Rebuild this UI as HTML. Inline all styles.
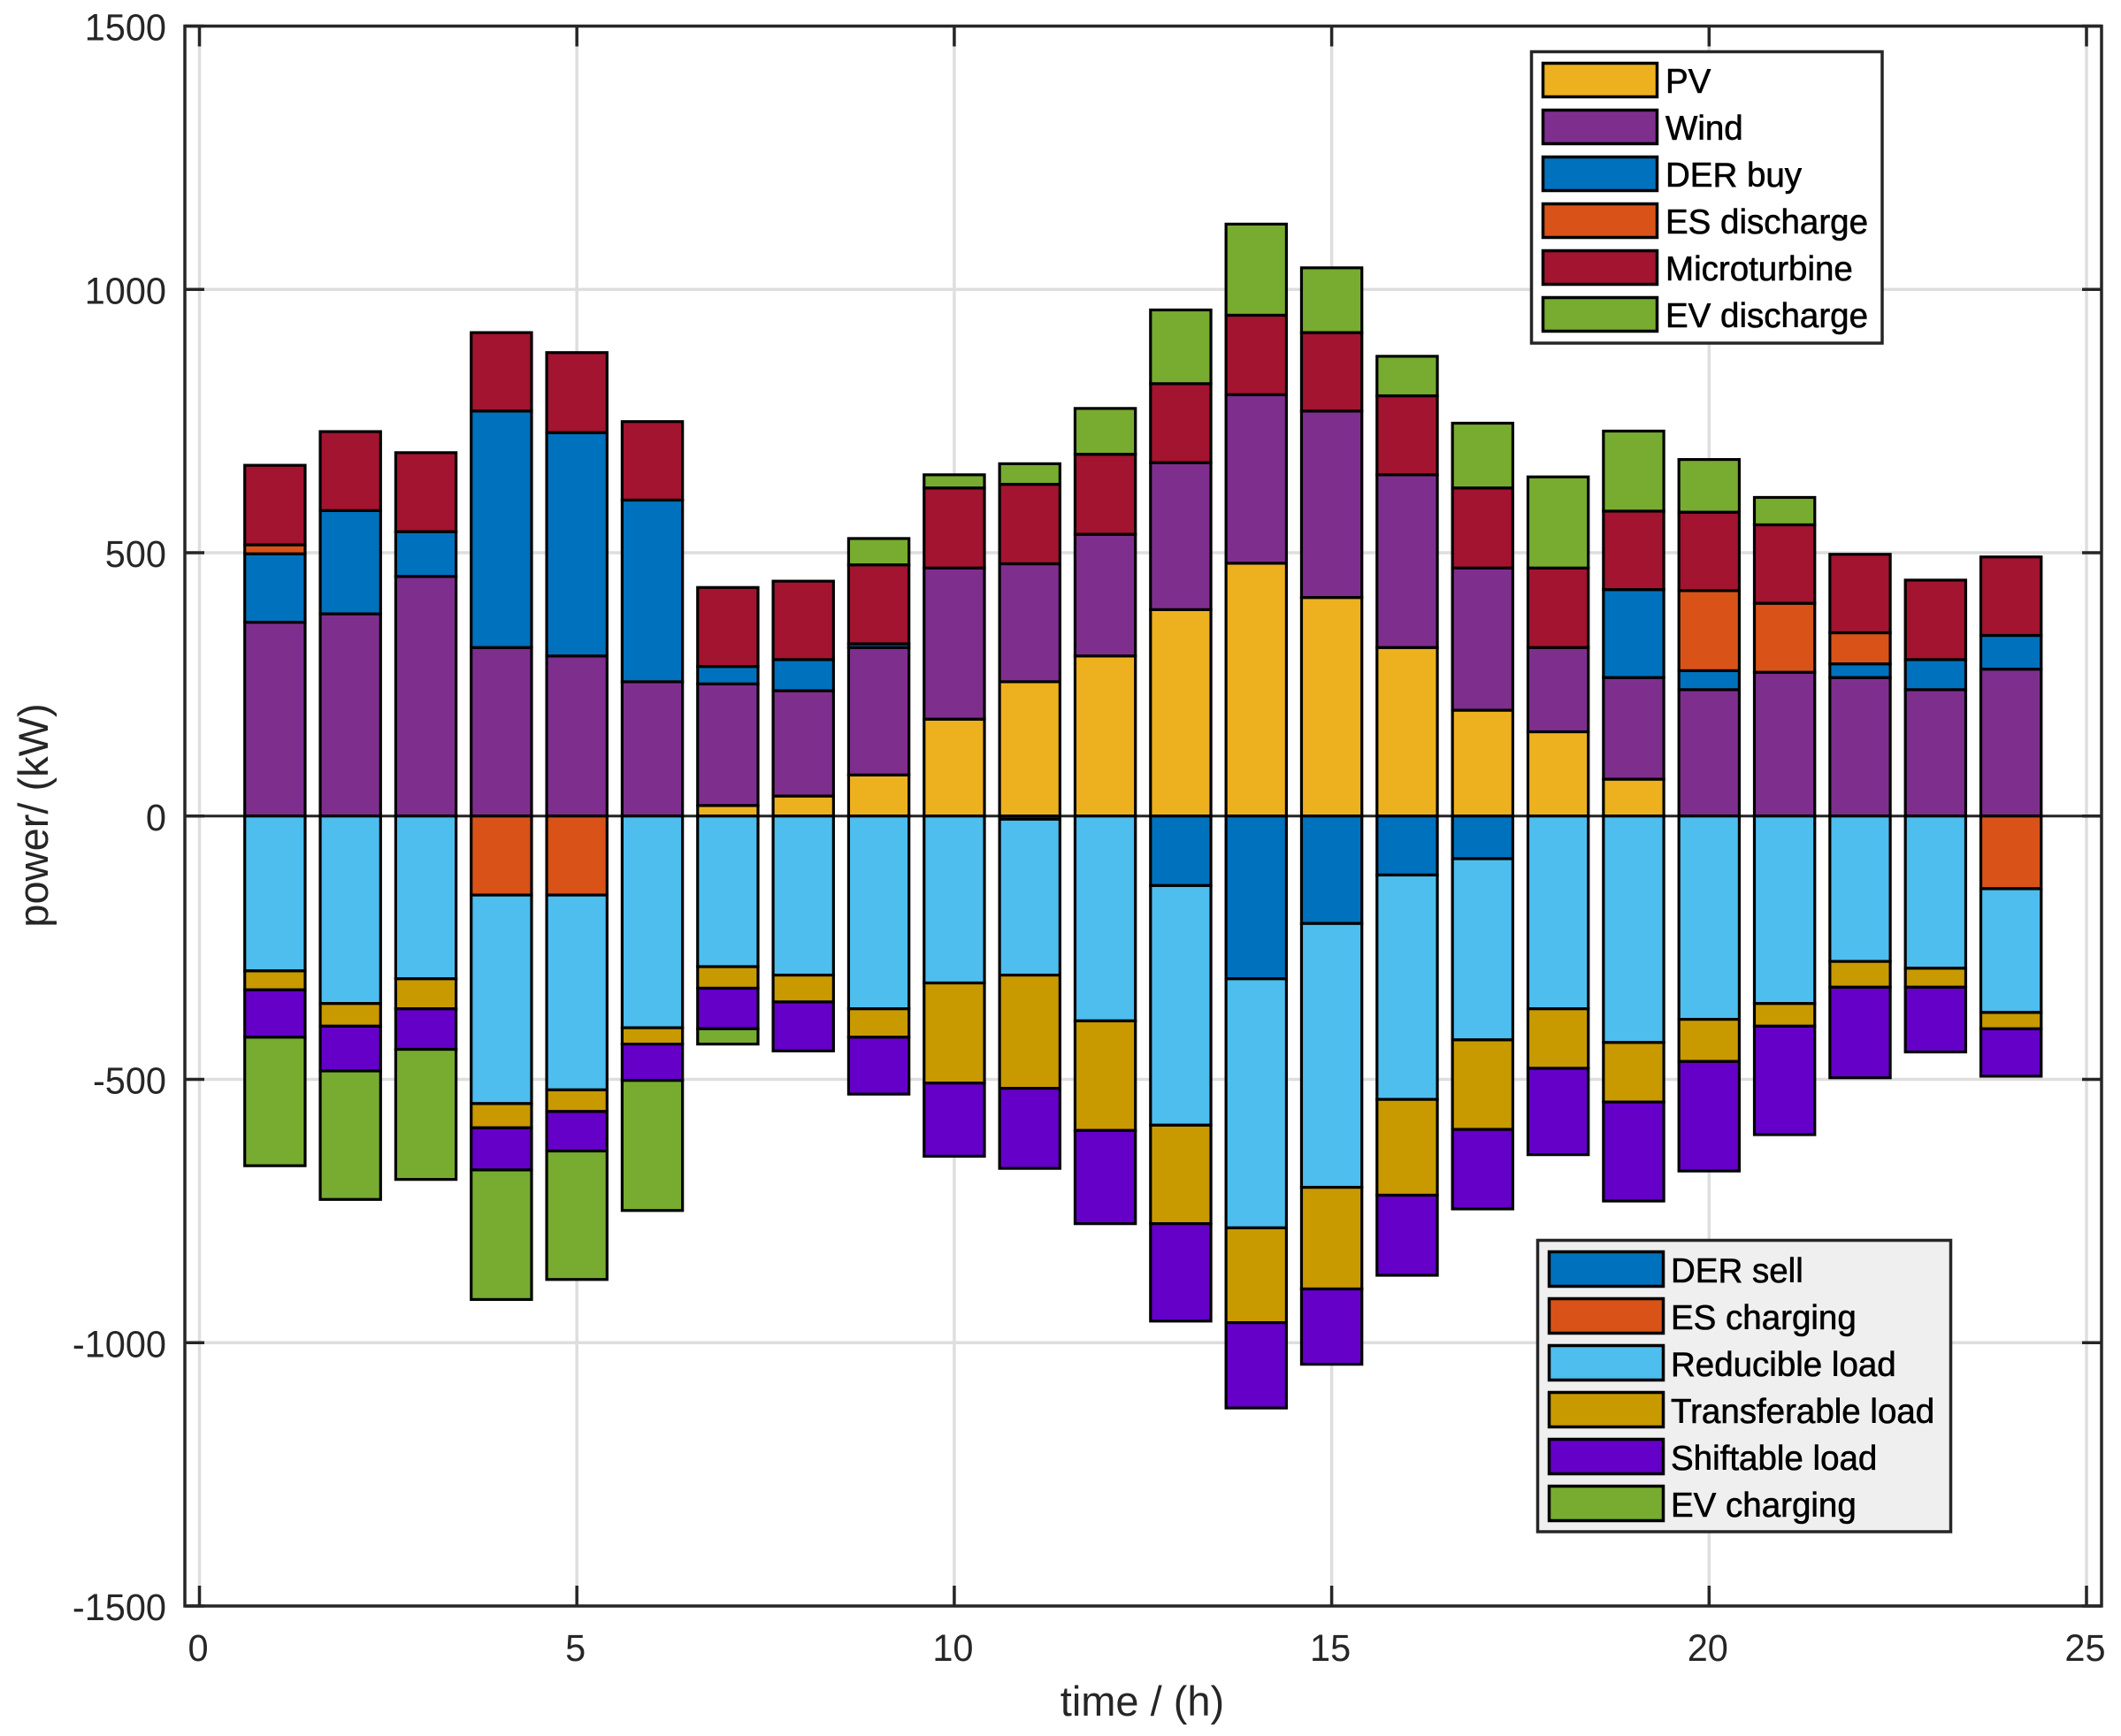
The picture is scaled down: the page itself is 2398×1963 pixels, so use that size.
<!DOCTYPE html>
<html lang="en">
<head>
<meta charset="utf-8">
<title>Power balance stacked bars</title>
<style>
html,body{margin:0;padding:0;background:#fff;width:2398px;height:1963px;overflow:hidden}
svg{display:block}
text{font-family:"Liberation Sans",Arial,sans-serif}
.tick{font-size:43px;fill:#262626}
.title{font-size:47px;fill:#262626}
.leg{font-size:38.5px;fill:#000;stroke:#000;stroke-width:.6px}
</style>
</head>
<body>
<svg id="chart" xmlns="http://www.w3.org/2000/svg" width="2398" height="1963" viewBox="0 0 2398 1963">
<rect x="0" y="0" width="2398" height="1963" fill="#fff"/>
<g id="grid"></g>
<g id="bars"></g>
<g id="axes"></g>
<text class="title" x="1291.5" y="1940" text-anchor="middle">time / (h)</text>
<text class="title" x="0" y="0" text-anchor="middle" transform="translate(54 922) rotate(-90)">power/ (kW)</text>

<g>
<rect x="1731.5" y="58.5" width="396.5" height="329.5" fill="#fff" stroke="#262626" stroke-width="3.5"/>
<g stroke="#000" stroke-width="3.5">
<rect x="1744.5" y="71.5" width="129" height="38" fill="#EDB120"/>
<rect x="1744.5" y="124.5" width="129" height="38" fill="#7E2F8E"/>
<rect x="1744.5" y="177.5" width="129" height="38" fill="#0072BD"/>
<rect x="1744.5" y="230.5" width="129" height="38" fill="#D95319"/>
<rect x="1744.5" y="283.5" width="129" height="38" fill="#A2142F"/>
<rect x="1744.5" y="336.5" width="129" height="38" fill="#77AC30"/>
</g>
<text class="leg" x="1883" y="105">PV</text>
<text class="leg" x="1883" y="158">Wind</text>
<text class="leg" x="1883" y="211">DER buy</text>
<text class="leg" x="1883" y="264">ES discharge</text>
<text class="leg" x="1883" y="317">Microturbine</text>
<text class="leg" x="1883" y="370">EV discharge</text>
</g>

<g>
<rect x="1738.5" y="1402.5" width="467" height="329.5" fill="#EFEFEF" stroke="#262626" stroke-width="3.5"/>
<g stroke="#000" stroke-width="3.5">
<rect x="1751.5" y="1415.5" width="129" height="39" fill="#0072BD"/>
<rect x="1751.5" y="1468.5" width="129" height="39" fill="#D95319"/>
<rect x="1751.5" y="1521.5" width="129" height="39" fill="#4DBEEE"/>
<rect x="1751.5" y="1574.5" width="129" height="39" fill="#C89A00"/>
<rect x="1751.5" y="1627.5" width="129" height="39" fill="#6400C8"/>
<rect x="1751.5" y="1680.5" width="129" height="39" fill="#77AC30"/>
</g>
<text class="leg" x="1889" y="1450">DER sell</text>
<text class="leg" x="1889" y="1503">ES charging</text>
<text class="leg" x="1889" y="1556">Reducible load</text>
<text class="leg" x="1889" y="1609">Transferable load</text>
<text class="leg" x="1889" y="1662">Shiftable load</text>
<text class="leg" x="1889" y="1715">EV charging</text>
</g>
</svg>
<script>
var hours = [1,2,3,4,5,6,7,8,9,10,11,12,13,14,15,16,17,18,19,20,21,22,23,24];
var xTickLabels = [0,5,10,15,20,25];
var yTickLabels = [1500,1000,500,0,-500,-1000,-1500];

var pv           = [0,0,0,0,0,0,20,38,78,184,255,304,392,480,415,320,201,160,70,0,0,0,0,0];
var wind         = [368,384,455,320,304,255,231,200,242,287,224,231,279,320,354,328,270,160,193,240,273,263,240,279];
var derBuy       = [130,196,85,449,424,345,33,59,7,0,0,0,0,0,0,0,0,0,167,36,0,26,57,64];
var esDischarge  = [17,0,0,0,0,0,0,0,0,0,0,0,0,0,0,0,0,0,0,152,131,59,0,0];
var microturbine = [151,150,150,149,152,149,150,149,150,152,151,152,150,151,149,150,152,151,149,149,149,149,151,149];
var evDischarge  = [0,0,0,0,0,0,0,0,50,25,39,87,140,173,123,75,123,173,152,100,52,0,0,0];

var derSell      = [0,0,0,0,0,0,0,0,0,0,6,0,132,309,204,112,81,0,0,0,0,0,0,0];
var esCharging   = [0,0,0,150,150,0,0,0,0,0,0,0,0,0,0,0,0,0,0,0,0,0,0,138];
var reducible    = [294,356,309,396,370,402,286,302,366,317,296,389,455,473,501,426,344,366,430,386,356,276,289,235];
var transferable = [36,43,57,46,41,31,41,51,54,190,215,208,187,180,193,182,170,113,113,80,43,49,36,31];
var shiftable    = [90,85,77,80,75,69,77,93,108,139,152,177,185,162,143,152,151,164,188,208,206,172,123,90];
var evCharging   = [244,244,247,246,244,247,29,0,0,0,0,0,0,0,0,0,0,0,0,0,0,0,0,0];

var positiveSeries = [
  {key:'pv', values:pv, color:'#EDB120'},
  {key:'wind', values:wind, color:'#7E2F8E'},
  {key:'der-buy', values:derBuy, color:'#0072BD'},
  {key:'es-discharge', values:esDischarge, color:'#D95319'},
  {key:'microturbine', values:microturbine, color:'#A2142F'},
  {key:'ev-discharge', values:evDischarge, color:'#77AC30'}
];
var negativeSeries = [
  {key:'der-sell', values:derSell, color:'#0072BD'},
  {key:'es-charging', values:esCharging, color:'#D95319'},
  {key:'reducible-load', values:reducible, color:'#4DBEEE'},
  {key:'transferable-load', values:transferable, color:'#C89A00'},
  {key:'shiftable-load', values:shiftable, color:'#6400C8'},
  {key:'ev-charging', values:evCharging, color:'#77AC30'}
];

var NS = 'http://www.w3.org/2000/svg';
var plotLeft = 209, plotRight = 2376, plotTop = 29.5, plotBottom = 1816;
function xScale(v){ return 225.5 + v * 85.34; }
function yScale(v){ return 922.75 - v * 0.5955; }
function make(tag, attrs, parent){
  var el = document.createElementNS(NS, tag);
  for (var k in attrs) el.setAttribute(k, attrs[k]);
  parent.appendChild(el);
  return el;
}
var gridG = document.getElementById('grid');
var barsG = document.getElementById('bars');
var axesG = document.getElementById('axes');

xTickLabels.forEach(function(t){
  var px = xScale(t);
  var g = make('line', {x1:px, x2:px, y1:plotTop, y2:plotBottom, stroke:'#dedede', 'stroke-width':3.5}, gridG);
  
  
});
yTickLabels.forEach(function(t){
  var py = yScale(t);
  var g = make('line', {x1:plotLeft, x2:plotRight, y1:py, y2:py, stroke:'#dedede', 'stroke-width':3.5}, gridG);
  
  
});

var zero = make('line', {x1:plotLeft, x2:plotRight, y1:yScale(0), y2:yScale(0), stroke:'#262626', 'stroke-width':3}, gridG);



function drawStack(series, sign){
  hours.forEach(function(h, i){
    var base = 0;
    series.forEach(function(s){
      var v = s.values[i];
      if (!v) return;
      var next = base + v;
      var y1 = yScale(sign * base), y2 = yScale(sign * next);
      var r = make('rect', {
        x: xScale(h - 0.4),
        y: Math.min(y1, y2),
        width: xScale(h + 0.4) - xScale(h - 0.4),
        height: Math.abs(y2 - y1),
        fill: s.color,
        stroke: '#000',
        'stroke-width': 3.2
      }, barsG);
      
      
      base = next;
    });
  });
}
drawStack(positiveSeries, 1);
drawStack(negativeSeries, -1);

var box = make('rect', {x:plotLeft, y:plotTop, width:plotRight-plotLeft, height:plotBottom-plotTop, fill:'none', stroke:'#262626', 'stroke-width':3.5}, axesG);



xTickLabels.forEach(function(t){
  var px = xScale(t);
  var a = make('line', {x1:px, x2:px, y1:plotBottom, y2:plotBottom-23, stroke:'#262626', 'stroke-width':3.5}, axesG);
  
  
  var b = make('line', {x1:px, x2:px, y1:plotTop, y2:plotTop+23, stroke:'#262626', 'stroke-width':3.5}, axesG);
  
  
  var l = make('text', {transform:'translate(' + (px-1.5) + ' 1878) scale(.965 1)', 'text-anchor':'middle', 'class':'tick'}, axesG);
  
  
  l.textContent = String(t);
});
yTickLabels.forEach(function(t){
  var py = yScale(t);
  var a = make('line', {x1:plotLeft, x2:plotLeft+22, y1:py, y2:py, stroke:'#262626', 'stroke-width':3.5}, axesG);
  
  
  var b = make('line', {x1:plotRight, x2:plotRight-22, y1:py, y2:py, stroke:'#262626', 'stroke-width':3.5}, axesG);
  
  
  var l = make('text', {transform:'translate(188 ' + (py+16) + ') scale(.965 1)', 'text-anchor':'end', 'class':'tick'}, axesG);
  
  
  l.textContent = String(t);
});
</script>
</body>
</html>
